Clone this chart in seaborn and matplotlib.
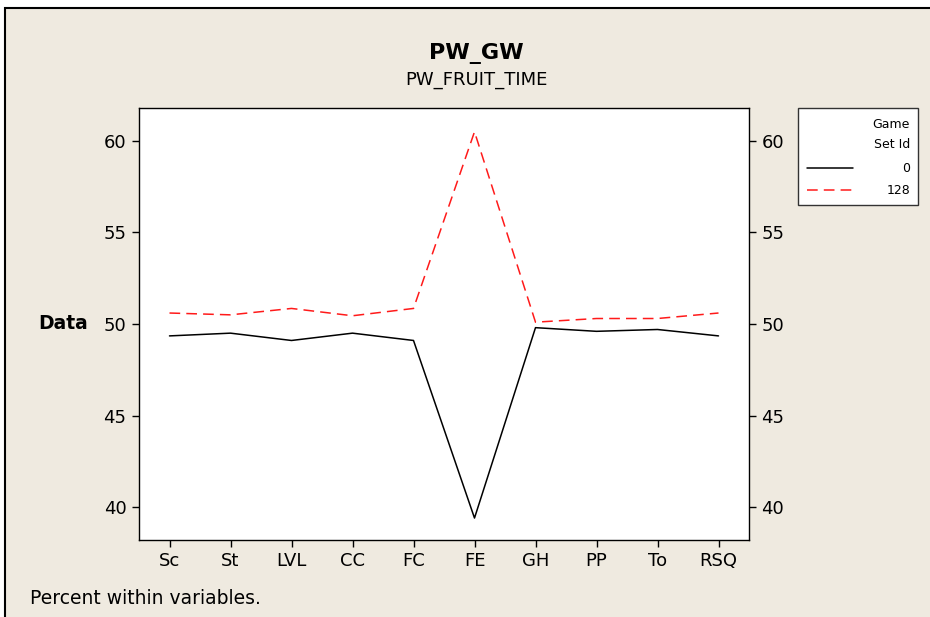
import matplotlib
matplotlib.use("Agg")
import matplotlib.pyplot as plt
from matplotlib.patches import Rectangle
from matplotlib.lines import Line2D
import seaborn as sns
import pandas as pd

categories = ["Sc", "St", "LVL", "CC", "FC", "FE", "GH", "PP", "To", "RSQ"]
set0 = [49.35, 49.5, 49.1, 49.5, 49.1, 39.4, 49.8, 49.6, 49.7, 49.35]
set128 = [50.6, 50.5, 50.85, 50.45, 50.85, 60.5, 50.1, 50.3, 50.3, 50.6]
series_names = ["0", "128"]
yticks = [40, 45, 50, 55, 60]

BG = "#EFEAE0"

sns.set_theme(style="white")
plt.rcParams["font.family"] = ["DejaVu Sans"]
plt.rcParams["text.color"] = "black"

df = pd.DataFrame({
    "x": list(range(len(categories))) * 2,
    "Data": set0 + set128,
    "Game Set Id": [series_names[0]] * len(set0) + [series_names[1]] * len(set128),
})

fig = plt.figure(figsize=(9.3, 6.17), dpi=100)
fig.patch.set_facecolor("white")
# beige panel with black border
fig.patches.append(Rectangle((5 / 930, -0.02), 1.0, 0.987 + 0.02,
                             transform=fig.transFigure, facecolor=BG,
                             edgecolor="black", linewidth=1.5, zorder=-5))

ax = fig.add_axes([139 / 930, 1 - 540 / 617, (749 - 139) / 930, (540 - 108) / 617])
ax.set_zorder(2)
ax.set_facecolor("white")

sns.lineplot(data=df, x="x", y="Data", hue="Game Set Id", style="Game Set Id",
             palette={"0": "black", "128": "#FF1A1A"},
             dashes={"0": "", "128": (7, 4)}, linewidth=1.1,
             legend=False, ax=ax)

ax.set_xlim(-0.5, len(categories) - 0.5)
ax.set_ylim(38.2, 61.8)
ax.set_xticks(range(len(categories)))
ax.set_xticklabels(categories)
ax.set_yticks(yticks)
ax.set_xlabel("")
ax.set_ylabel("")
for s in ax.spines.values():
    s.set_color("black")
    s.set_linewidth(1.0)
ax.tick_params(axis="both", which="both", direction="out", length=5, width=1,
               color="black", labelsize=13, labelcolor="black",
               left=True, right=True, bottom=True, labelright=True, pad=4)
ax.grid(False)

fig.text(88 / 930, 1 - 324 / 617, "Data", ha="right", va="center",
         fontsize=13.5, fontweight="bold", color="black")
fig.text(476 / 930, 1 - 53 / 617, "PW_GW", ha="center", va="center",
         fontsize=16, fontweight="bold", color="black")
fig.text(476 / 930, 1 - 80 / 617, "PW_FRUIT_TIME", ha="center", va="center",
         fontsize=13, color="black")
fig.text(30 / 930, 1 - 599 / 617, "Percent within variables.", ha="left",
         va="center", fontsize=13.5, color="black")

# legend box
fig.patches.append(Rectangle((798 / 930, 1 - 205 / 617), 120 / 930, 97 / 617,
                             transform=fig.transFigure, facecolor="white",
                             edgecolor="#333333", linewidth=1.0, zorder=1))
fig.text(910 / 930, 1 - 124 / 617, "Game", ha="right", va="center", fontsize=9, zorder=3, color="black")
fig.text(910 / 930, 1 - 145 / 617, "Set Id", ha="right", va="center", fontsize=9, zorder=3, color="black")
fig.text(910 / 930, 1 - 168 / 617, series_names[0], ha="right", va="center", fontsize=9, zorder=3, color="black")
fig.text(910 / 930, 1 - 191 / 617, series_names[1], ha="right", va="center", fontsize=9, zorder=3, color="black")
fig.lines.append(Line2D([807 / 930, 853 / 930], [1 - 168 / 617] * 2,
                        transform=fig.transFigure, color="black", linewidth=1.1, zorder=3))
fig.lines.append(Line2D([807 / 930, 853 / 930], [1 - 190 / 617] * 2,
                        transform=fig.transFigure, color="#FF1A1A", linewidth=1.1,
                        dashes=(7, 4), zorder=3))

fig.savefig("out.png", dpi=100, facecolor=fig.get_facecolor())
